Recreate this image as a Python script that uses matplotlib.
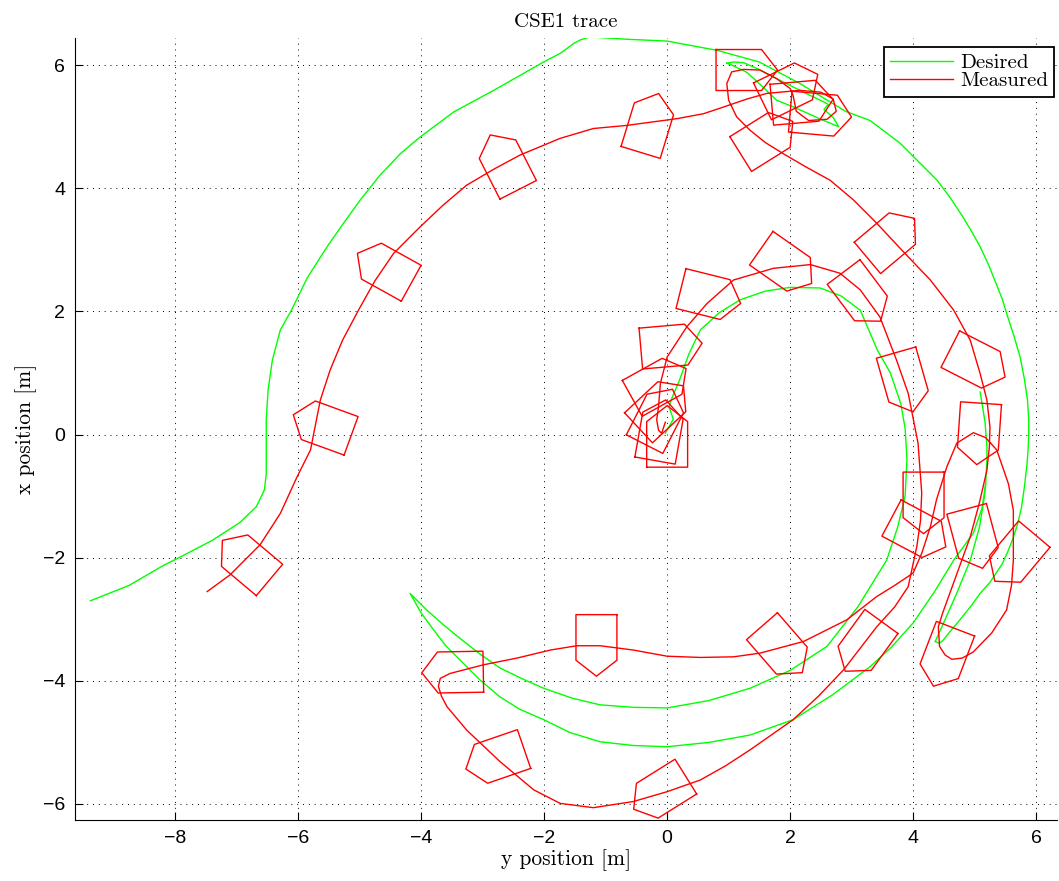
import numpy as np
import matplotlib
matplotlib.use('Agg')
import matplotlib.pyplot as plt

# positions: *_y = y (east, horizontal), *_x = x (north, vertical)
des_outer_y = [-9.38, -8.75, -8.2, -7.9, -7.4, -6.95, -6.68, -6.55, -6.52, -6.52, -6.52, -6.49, -6.42, -6.29,
               -6.11, -5.85, -5.53, -5.25, -4.99, -4.68, -4.34, -4.02, -3.47, -2.82, -2.01, -1.74, -1.52,
               -1.41, -1.28, -1.14, -0.66, 0.0, 0.81, 1.5, 2.16, 2.9, 3.3, 3.79, 4.39, 4.6, 4.8, 4.95, 5.09,
               5.23, 5.35, 5.45, 5.52, 5.64, 5.74, 5.81, 5.86, 5.88, 5.88, 5.87, 5.85, 5.81, 5.76, 5.70, 5.62,
               5.54, 5.45, 5.25, 5.09, 4.93, 4.76, 4.6, 4.48, 4.42, 4.36]
des_outer_x = [-2.70, -2.45, -2.13, -1.98, -1.72, -1.43, -1.17, -0.90, -0.65, -0.25, 0.24, 0.72, 1.21, 1.70,
               2.02, 2.55, 3.05, 3.45, 3.81, 4.2, 4.56, 4.83, 5.24, 5.59, 6.05, 6.19, 6.35,
               6.41, 6.45, 6.45, 6.42, 6.39, 6.24, 6.05, 5.7, 5.25, 5.1, 4.73, 4.13, 3.85, 3.55, 3.3, 3.05,
               2.75, 2.45, 2.2, 1.97, 1.6, 1.26, 0.9, 0.56, 0.25, 0.0, -0.25, -0.5, -0.85, -1.2, -1.45, -1.7,
               -1.9, -2.1, -2.4, -2.58, -2.8, -3.01, -3.2, -3.35, -3.39, -3.36]

# return leg of the narrow loop on the right
des_loop_y = [4.36, 4.5, 4.7, 4.93, 5.08, 5.16, 5.18]
des_loop_x = [-3.36, -3.05, -2.6, -2.04, -1.5, -1.0, -0.8]

des_inner_y = [5.09, 5.13, 5.17, 5.2, 5.2, 5.18, 5.12, 4.98, 4.66, 4.35, 4.0, 3.65, 3.30, 2.7, 2.05, 1.35,
               0.68, 0.0, -0.55, -1.09, -1.58, -2.01, -2.4, -2.72, -3.05, -3.37, -3.6, -3.80, -4.0, -4.18,
               -3.91, -3.65, -3.37, -3.05, -2.72, -2.35, -2.01, -1.55, -1.09, -0.55, 0.0, 0.68, 1.35, 2.0,
               2.60, 3.1, 3.57, 3.75, 3.87, 3.9, 3.87, 3.8, 3.63, 3.42, 3.14, 2.83, 2.49, 2.0, 1.6, 1.19, 0.85,
               0.54, 0.35, 0.2, 0.08, 0.03, 0.1, -0.03]
des_inner_x = [0.69, 0.45, 0.2, -0.2, -0.41, -0.8, -1.2, -1.6, -2.04, -2.55, -3.06, -3.45, -3.77, -4.22,
               -4.63, -4.88, -5.0, -5.07, -5.05, -4.99, -4.84, -4.63, -4.46, -4.26, -3.98, -3.66, -3.43,
               -3.17, -2.9, -2.58, -2.85, -3.08, -3.31, -3.56, -3.79, -3.97, -4.12, -4.28, -4.39, -4.43,
               -4.44, -4.32, -4.12, -3.83, -3.44, -2.8, -2.04, -1.5, -1.0, -0.4, 0.1, 0.5, 1.0, 1.37,
               2.02, 2.25, 2.38, 2.39, 2.33, 2.19, 1.98, 1.7, 1.3, 0.88, 0.6, 0.45, 0.25, 0.02]

des_knot_y = [0.97, 1.08, 1.24, 1.45, 1.9, 2.3, 2.55, 2.62, 2.55, 2.7, 2.79, 2.5, 2.1, 1.78, 1.55, 1.3, 1.05, 0.97]
des_knot_x = [6.03, 6.05, 6.04, 5.95, 5.72, 5.52, 5.40, 5.36, 5.28, 5.15, 5.0, 5.12, 5.3, 5.43, 5.65, 5.88, 6.0, 6.03]

meas_y = [-7.48, -7.11, -6.62, -6.29, -6.02, -5.80, -5.64, -5.48, -5.28, -5.02, -4.75, -4.45, -4.02, -3.65,
          -3.26, -2.8, -2.39, -1.74, -1.20, -0.66, 0.16, 0.59, 0.86, 1.3, 1.62, 2.16, 2.5, 2.7, 2.75, 2.6,
          2.3, 2.1, 2.05, 2.0, 1.78, 1.51, 1.24, 1.05, 0.97, 1.0, 1.13, 1.35, 1.6, 1.89, 2.25, 2.65, 3.03,
          3.41, 3.84, 4.28, 4.66, 4.93, 5.09, 5.2, 5.25, 5.24, 5.2, 5.08, 4.93, 4.77, 4.6, 4.48, 4.41, 4.43,
          4.52, 4.63, 4.8, 4.98, 5.28, 5.52, 5.6, 5.63, 5.63, 5.55, 5.36, 5.18, 4.98, 4.71, 4.55, 4.38, 4.28,
          4.14, 4.0, 3.7, 3.41, 2.92, 2.22, 1.51, 1.08, 0.54, 0.0, -0.55, -1.09, -1.47, -1.90, -2.44, -2.99,
          -3.53, -3.69, -3.72, -3.67, -3.58, -3.26, -2.72, -2.17, -1.74, -1.2, -0.55, 0.0, 0.54, 0.95, 1.35,
          2.05, 2.47, 2.87, 3.41, 3.7, 3.92, 4.06, 4.12, 4.14, 4.08, 3.92, 3.73, 3.46, 3.14, 2.81, 2.33, 1.73,
          1.08, 0.65, 0.32, 0.0, -0.11, -0.14, -0.17, -0.14, -0.09, -0.03]
meas_x = [-2.55, -2.28, -1.79, -1.28, -0.69, -0.25, 0.56, 1.05, 1.53, 2.02, 2.5, 2.94, 3.37, 3.72,
          4.05, 4.32, 4.54, 4.81, 4.97, 5.02, 5.13, 5.21, 5.30, 5.45, 5.54, 5.59, 5.56, 5.45, 5.25, 5.12,
          5.1, 5.25, 5.5, 5.62, 5.78, 5.92, 5.93, 5.89, 5.70, 5.43, 5.16, 4.94, 4.74, 4.56, 4.35, 4.13, 3.81,
          3.43, 2.97, 2.51, 2.02, 1.53, 0.99, 0.56, 0.12, -0.2, -0.58, -1.1, -1.66, -2.1, -2.57, -2.9, -3.12,
          -3.44, -3.58, -3.65, -3.63, -3.53, -3.22, -2.85, -2.45, -2.04, -1.23, -0.8, -0.25, -0.05, 0.03,
          -0.14, -0.52, -1.06, -1.5, -1.93, -2.25, -2.45, -2.63, -3.01, -3.36, -3.55, -3.61, -3.62, -3.60,
          -3.50, -3.43, -3.43, -3.50, -3.63, -3.74, -3.88, -3.96, -4.09, -4.25, -4.42, -4.80, -5.31, -5.77,
          -5.99, -6.06, -5.96, -5.80, -5.61, -5.38, -5.12, -4.63, -4.24, -3.82, -3.12, -2.8, -2.47, -1.82,
          -1.4, -0.95, -0.14, 0.67, 1.21, 1.91, 2.35, 2.62, 2.76, 2.70, 2.51, 2.13, 1.75, 1.26, 0.83, 0.45,
          0.24, 0.07, 0.02, 0.2]

# ship snapshots: centre (y, x) and heading in degrees
boat_y = [-6.85, -5.61, -4.6, -2.65, -0.285, 1.295, 2.0, 2.5, 2.2, 1.62, 3.64, 3.17, 5.05, 3.86, 5.07,
          4.17, 4.09, 5.0, 5.65, 4.51, 3.19, 1.87, -1.15, -3.49, -2.80, -0.12, 1.94, 0.71, 0.07, -0.13,
          0.0, -0.11, -0.10, -0.14]
boat_x = [-2.04, 0.15, 2.70, 4.42, 5.06, 5.92, 5.63, 5.2, 5.4, 4.82, 3.19, 2.24, 1.16, 0.85, 0.01,
          -1.11, -1.59, -1.69, -2.0, -3.62, -3.44, -3.49, -3.425, -3.86, -5.27, -5.82, 2.74, 2.25, 1.44, 0.83,
          -0.03, 0.07, 0.45, 0.29]
boat_psi = [-50, -70, -61, -27, 17, 90, 64, 95, 85, 58, 50, 143, 117, 164, 184,
            180, 118, 165, -140, -159, -144, 139, 180, -91, -109, -122, 125, 104, 85, 61,
            0, 10, 47, 27]

# hull outline in body frame (forward, starboard)
hull_f = np.array([-0.5, 0.24, 0.5, 0.24, -0.5, -0.5])
hull_s = np.array([-0.333, -0.333, 0.0, 0.333, 0.333, -0.333])

plt.rcParams['font.family'] = ['Liberation Sans', 'DejaVu Sans']
serif = 'cmr10'

fig = plt.figure(figsize=(10.59, 8.81), dpi=100)
ax = fig.add_axes([75/1059, 61/881, 982/1059, 782/881])

green = '#00ff00'
red = '#ff0000'
ax.plot(des_outer_y, des_outer_x, color=green, lw=1.0, label='Desired')
ax.plot(des_loop_y, des_loop_x, color=green, lw=1.0)
ax.plot(des_inner_y, des_inner_x, color=green, lw=1.0)
ax.plot(des_knot_y, des_knot_x, color=green, lw=1.0)
ax.plot(meas_y, meas_x, color=red, lw=1.0, label='Measured')

for yc, xc, p in zip(boat_y, boat_x, boat_psi):
    r = np.deg2rad(p)
    n = xc + hull_f*np.cos(r) - hull_s*np.sin(r)
    e = yc + hull_f*np.sin(r) + hull_s*np.cos(r)
    ax.plot(e, n, color=red, lw=1.0)

ax.set_xlim(-9.63, 6.34)
ax.set_ylim(-6.26, 6.44)
ax.set_xticks(np.arange(-8, 7, 2))
ax.set_yticks(np.arange(-6, 7, 2))
ax.tick_params(direction='in', length=6, labelsize=14, pad=7)
ax.spines['top'].set_visible(False)
ax.spines['right'].set_visible(False)
ax.grid(True, color='k', linestyle=(0, (1, 5)), linewidth=0.7)

ax.set_title('CSE1 trace', fontfamily=serif, fontsize=15, pad=8)
ax.set_xlabel('y position [m]', fontfamily=serif, fontsize=15.5, labelpad=2)
ax.set_ylabel('x position [m]', fontfamily=serif, fontsize=15.5, labelpad=4)

leg = ax.legend(loc='upper right', bbox_to_anchor=(0.997, 0.9885), prop={'family': serif, 'size': 15},
                fancybox=False, framealpha=1, edgecolor='k', handlelength=3.0, labelspacing=0.0,
                borderpad=0.3, handletextpad=0.35, borderaxespad=0)
leg.get_frame().set_linewidth(1.3)

fig.savefig('out.png', dpi=100)
